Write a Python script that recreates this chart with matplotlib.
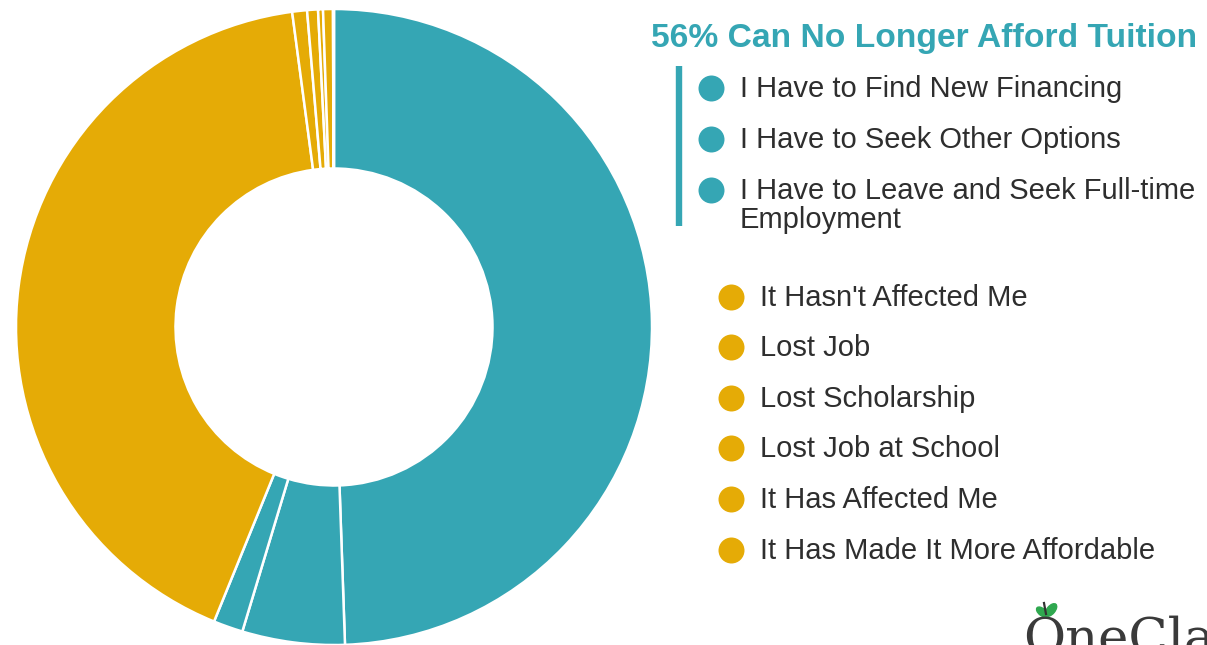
import matplotlib
matplotlib.use("Agg")
import matplotlib.pyplot as plt
from matplotlib.patches import Ellipse

W, H = 1207, 645
TEAL = "#35A6B4"
GOLD = "#E5AB06"
TEXT = "#2E2E2E"

# Shares of responses, clockwise from 12 o'clock
tuition_labels = ["I Have to Find New Financing", "I Have to Seek Other Options",
                  "I Have to Leave and Seek Full-time\nEmployment"]
tuition_values = [49.4, 5.2, 1.5]
other_labels = ["It Hasn't Affected Me", "Lost Job", "Lost Scholarship",
                "Lost Job at School", "It Has Affected Me", "It Has Made It More Affordable"]
other_values = [41.7, 0.75, 0.55, 0.25, 0.5, 0.05]
headline = "56% Can No Longer Afford Tuition"

plt.rcParams["font.family"] = ["Liberation Sans", "DejaVu Sans"]
fig = plt.figure(figsize=(W / 100, H / 100), dpi=100, facecolor="white")

# donut
cx, cy, r = 334, 327, 318
ax = fig.add_axes([(cx - r) / W, 1 - (cy + r) / H, 2 * r / W, 2 * r / H])
values = tuition_values + other_values
colors = [TEAL] * len(tuition_values) + [GOLD] * len(other_values)
ax.pie(values, colors=colors, startangle=90, counterclock=False, radius=1.0,
       wedgeprops=dict(width=1 - 158.5 / r, edgecolor="white", linewidth=1.8))
ax.set_xlim(-1, 1)
ax.set_ylim(-1, 1)

# overlay in pixel units for the key and logo
key = fig.add_axes([0, 0, 1, 1], zorder=3)
key.set_xlim(0, W)
key.set_ylim(H, 0)
key.axis("off")

key.text(651, 38, headline, color=TEAL, fontsize=24.2, fontweight="bold", va="center")
key.plot([679, 679], [66, 226], color=TEAL, lw=4.6, solid_capstyle="butt")

for label, y in zip(tuition_labels, [88, 139, 190]):
    key.scatter([711], [y], s=350, color=TEAL, linewidths=0)
    if "\n" in label:
        key.text(740, y - 13, label, color=TEXT, fontsize=21, va="top", linespacing=1.04)
    else:
        key.text(740, y + 1, label, color=TEXT, fontsize=21, va="center")

for label, y in zip(other_labels, [297, 347, 398, 448, 499, 550]):
    key.scatter([731], [y], s=350, color=GOLD, linewidths=0)
    key.text(760, y + 1, label, color=TEXT, fontsize=21, va="center")

# logo, running off the lower right corner
key.text(1023, 664, "OneCla", color="#3A3A3A", fontsize=37, family="DejaVu Serif",
         va="bottom", clip_on=True)
key.plot([1044, 1046], [603, 614], color="#333333", lw=1.6)
key.add_patch(Ellipse((1042, 612), 13, 7, angle=40, color="#2FA84F"))
key.add_patch(Ellipse((1051, 610), 15, 8, angle=-50, color="#2FA84F"))

fig.savefig("out.png", dpi=100, facecolor="white")
